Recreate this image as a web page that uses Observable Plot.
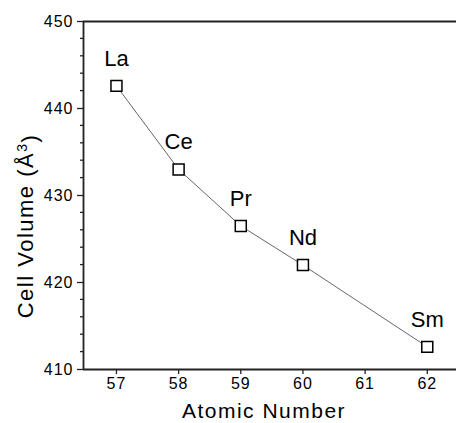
<!DOCTYPE html>
<html>
<head>
<meta charset="utf-8">
<script src="https://cdn.jsdelivr.net/npm/d3@7"></script>
<script src="https://cdn.jsdelivr.net/npm/@observablehq/plot@0.6"></script>
<style>
  html, body { margin: 0; padding: 0; background: #fff; }
  #chart { width: 456px; height: 423px; }
  #chart svg text { font-family: 'Liberation Sans', Arial, sans-serif; }
</style>
</head>
<body>
<div id="chart"></div>
<script>
const elements = ["La", "Ce", "Pr", "Nd", "Sm"];
const atomicNumbers = [57, 58, 59, 60, 62];
const cellVolumes = [442.6, 433.0, 426.5, 422.0, 412.6];
const xTicks = [57, 58, 59, 60, 61, 62];
const yTicks = [410, 420, 430, 440, 450];
const yMinorTicks = [412, 414, 416, 418, 422, 424, 426, 428, 432, 434, 436, 438, 442, 444, 446, 448];
const xTitle = "Atomic Number";
const yTitleMain = "Cell Volume (Å";
const yTitleSup = "3";
const yTitleEnd = ")";

const data = elements.map((el, i) => ({el, z: atomicNumbers[i], v: cellVolumes[i]}));
const xDomain = [56.47, 62.47];
const yDomain = [410, 450];
const font = "'Liberation Sans', Arial, sans-serif";

const chart = Plot.plot({
  width: 456,
  height: 423,
  marginLeft: 83,
  marginRight: 0,
  marginTop: 21,
  marginBottom: 54,
  style: {fontFamily: font, fontSize: "16px", color: "#000", background: "#fff", overflow: "visible"},
  x: {domain: xDomain},
  y: {domain: yDomain},
  marks: [
    Plot.axisY({ticks: yTicks, tickSize: 6, tickPadding: 4, strokeWidth: 1.3, stroke: "#222", fill: "#000", tickFormat: "d", label: null}),
    Plot.axisX({ticks: xTicks, tickSize: 5, tickPadding: 3, strokeWidth: 1.3, stroke: "#222", fill: "#000", tickFormat: "d", label: null}),
    Plot.ruleX([xDomain[0]], {stroke: "#222", strokeWidth: 1.8}),
    Plot.ruleY([yDomain[0], yDomain[1]], {stroke: "#222", strokeWidth: 1.8}),
    Plot.line(data, {x: "z", y: "v", stroke: "#555", strokeWidth: 0.9}),
    Plot.dot(data, {x: "z", y: "v", symbol: "square", r: 6.2, fill: "#fff", stroke: "#000", strokeWidth: 1.5}),
    Plot.text(data, {x: "z", y: "v", text: "el", dy: -20, lineAnchor: "bottom", fontSize: 22, fill: "#000"})
  ]
});
document.getElementById("chart").appendChild(chart);

const svg = d3.select(chart);
const ys = chart.scale("y");
const xs = chart.scale("x");
const x0 = xs.apply(xDomain[0]);

// minor ticks on the y axis, positioned through Plot's y scale
svg.append("g")
  .attr("stroke", "#222")
  .attr("stroke-width", 1.3)
  .selectAll("line")
  .data(yMinorTicks)
  .join("line")
  .attr("x1", x0 - 3)
  .attr("x2", x0)
  .attr("y1", d => ys.apply(d))
  .attr("y2", d => ys.apply(d));

// tick label size
svg.selectAll("g[aria-label='y-axis tick label'] text, g[aria-label='x-axis tick label'] text")
  .style("font-size", "16px")
  .style("letter-spacing", "1px");
svg.selectAll("g[aria-label='y-axis tick label'], g[aria-label='x-axis tick label']")
  .attr("font-size", 16);

// x-axis title
svg.append("text")
  .attr("x", 264)
  .attr("y", 418)
  .attr("text-anchor", "middle")
  .style("font-family", font)
  .style("font-size", "21px")
  .style("letter-spacing", "1.5px")
  .attr("fill", "#000")
  .text(xTitle);

// y-axis title with superscript
const yt = svg.append("text")
  .attr("transform", "translate(33,226) rotate(-90)")
  .attr("text-anchor", "middle")
  .style("font-family", font)
  .style("font-size", "22px")
  .style("letter-spacing", "1.5px")
  .attr("fill", "#000");
yt.append("tspan").text(yTitleMain);
yt.append("tspan").attr("dy", "-0.45em").style("font-size", "14px").text(yTitleSup);
yt.append("tspan").attr("dy", "0.45em").text(yTitleEnd);
</script>
</body>
</html>
